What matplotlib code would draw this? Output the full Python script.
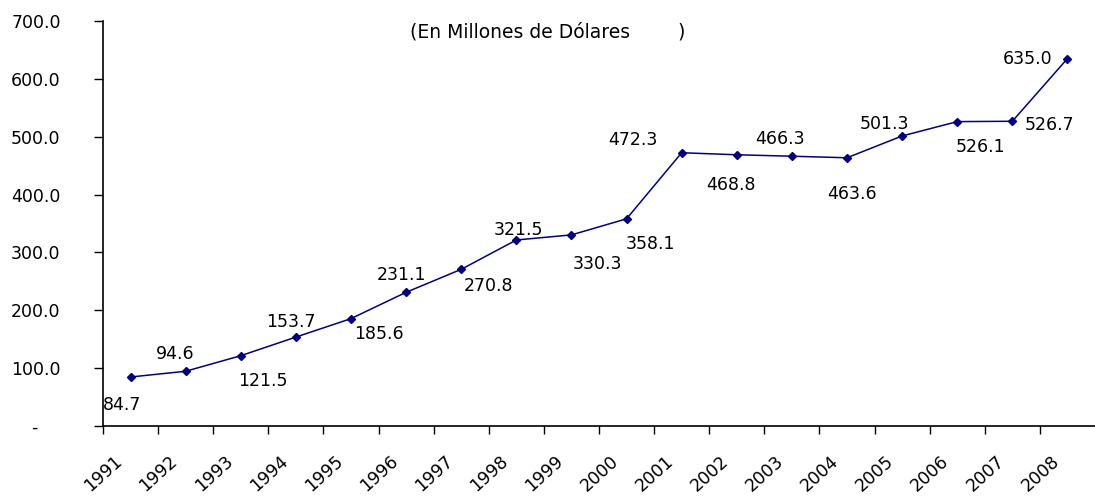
import matplotlib
matplotlib.use("Agg")
import matplotlib.pyplot as plt
from matplotlib.transforms import ScaledTranslation

# data (millones de dolares)
years = ["1991", "1992", "1993", "1994", "1995", "1996", "1997", "1998", "1999",
         "2000", "2001", "2002", "2003", "2004", "2005", "2006", "2007", "2008"]
values = [84.7, 94.6, 121.5, 153.7, 185.6, 231.1, 270.8, 321.5, 330.3,
          358.1, 472.3, 468.8, 466.3, 463.6, 501.3, 526.1, 526.7, 635.0]
ytick_vals = [0, 100, 200, 300, 400, 500, 600, 700]

# where each value label sits relative to its point (pixels)
label_offsets = [(-8, -28), (-10, 17), (22, -25), (-5, 15), (28, -15), (-5, 17),
                 (27, -17), (2, 10), (26, -29), (24, -25), (-49, 13), (-6, -30),
                 (-12, 17), (5, -36), (-18, 12), (23, -25), (37, -4), (-40, 0)]

plt.rcParams['font.family'] = ['DejaVu Sans']
fs = 12.5

fig = plt.figure(figsize=(10.95, 4.97), dpi=100)
ax = fig.add_axes([103 / 1095, 71 / 497, 1 - 103 / 1095, 405 / 497])

x = [i + 0.5 for i in range(len(values))]
ax.plot(x, values, color='#000080', lw=1.1, marker='D', ms=4.5,
        markerfacecolor='#000080', markeredgecolor='#000080')

for xi, v, off in zip(x, values, label_offsets):
    ax.annotate("%.1f" % v, (xi, v), xytext=off, textcoords='offset pixels',
                ha='center', va='center', fontsize=fs, color='black')

ax.set_xlim(0, len(values))
ax.set_ylim(0, 700)

ax.set_yticks(ytick_vals)
ax.set_yticklabels(["-    "] + ["%.1f" % t for t in ytick_vals[1:]], fontsize=fs)
ax.tick_params(axis='y', direction='out', length=6.5, width=1, pad=24)

ax.set_xticks(range(len(values)))
ax.set_xticklabels(years, fontsize=fs, rotation=42, ha='right', va='top',
                   rotation_mode='anchor')
ax.tick_params(axis='x', direction='out', length=6, width=1, pad=13)
shift = ScaledTranslation(11 / 100, 0, fig.dpi_scale_trans)
for lab in ax.get_xticklabels():
    lab.set_transform(lab.get_transform() + shift)

ax.spines['top'].set_visible(False)
ax.spines['right'].set_visible(False)
ax.spines['left'].set_linewidth(1.2)
ax.spines['bottom'].set_linewidth(1.2)

fig.text(548 / 1095, 1 - 32 / 497, "(En Millones de Dólares        )",
         ha='center', va='center', fontsize=13.5)

fig.savefig("out.png", dpi=100)
